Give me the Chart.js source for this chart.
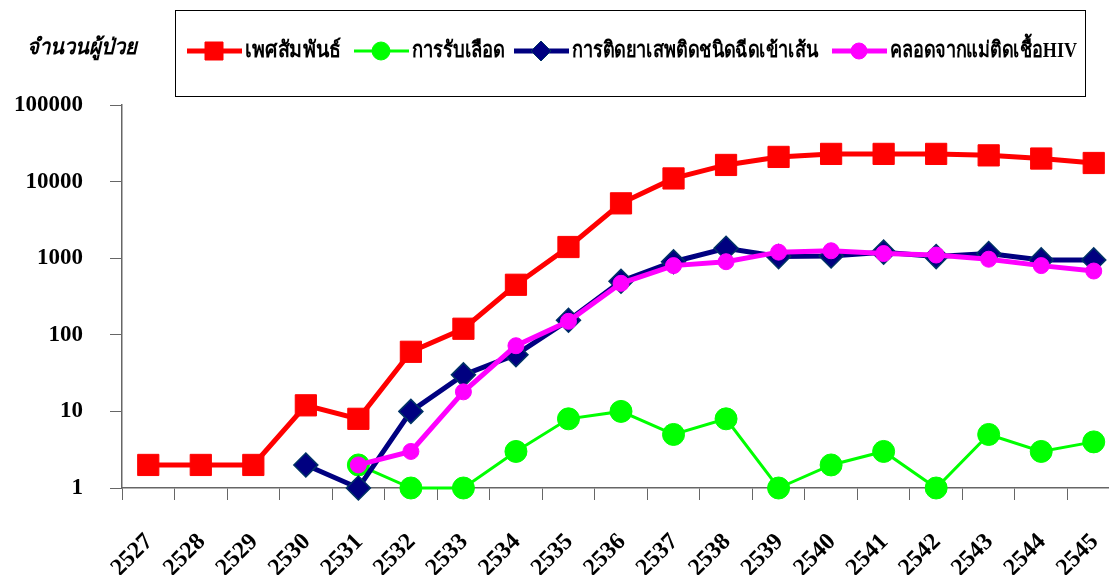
<!DOCTYPE html>
<html>
<head>
<meta charset="utf-8">
<script src="https://cdn.jsdelivr.net/npm/chart.js@4.4.0/dist/chart.umd.min.js"></script>
<style>
html, body { margin:0; padding:0; background:#fff; overflow:hidden; width:1109px; height:575px; }
canvas { display:block; }
</style>
</head>
<body>
<canvas id="myChart" width="1120" height="575"></canvas>
<script>
var years = ['2527','2528','2529','2530','2531','2532','2533','2534','2535','2536',
             '2537','2538','2539','2540','2541','2542','2543','2544','2545'];
var sexData    = [2,2,2,12,8,60,120,450,1400,5200,11000,16500,21000,23000,23000,23000,22000,20000,17500];
var bloodData  = [null,null,null,null,2,1,1,3,8,10,5,8,1,2,3,1,5,3,4];
var drugData   = [null,null,null,2,1,10,30,55,155,500,900,1350,1050,1070,1200,1050,1150,950,950];
var motherData = [null,null,null,null,2,3,18,72,150,470,800,900,1200,1250,1150,1100,970,800,680];
var yTicks = [1,10,100,1000,10000,100000];
var seriesNames = ['เพศสัมพันธ์','การรับเลือด','การติดยาเสพติดชนิดฉีดเข้าเส้น','คลอดจากแม่ติดเชื้อHIV'];
var yTitle = 'จำนวนผู้ป่วย';

var serif = '"Liberation Serif", "Times New Roman", serif';

// small marker drawer for the legend
function marker(ctx, style, r, x, y){
	ctx.beginPath();
	if (style === 'rect') {
		ctx.rect(x - r, y - r, 2*r, 2*r);
	} else if (style === 'rectRot') {
		ctx.moveTo(x, y - r); ctx.lineTo(x + r, y); ctx.lineTo(x, y + r); ctx.lineTo(x - r, y); ctx.closePath();
	} else {
		ctx.arc(x, y, r, 0, Math.PI*2);
	}
	ctx.fill();
	ctx.stroke();
}

var boxLegend = {
	id: 'boxLegend',
	afterDraw: function(chart){
		var ctx = chart.ctx;
		ctx.save();
		ctx.fillStyle = '#000';
		ctx.textBaseline = 'middle';
		ctx.textAlign = 'left';
		ctx.font = 'italic bold 22px ' + serif;
		ctx.fillText(yTitle, 27, 48, 110);

		ctx.strokeStyle = '#000';
		ctx.lineWidth = 1;
		ctx.strokeRect(175.5, 10.5, 910, 86);

		var starts = [187, 354, 514, 832];
		var sizes = [9, 9, 10, 8];
		var textW = [96, 93, 246, 187];
		ctx.font = 'bold 22px ' + serif;
		chart.data.datasets.forEach(function(ds, i){
			var x0 = starts[i], y = 51;
			ctx.strokeStyle = ds.borderColor;
			ctx.lineWidth = ds.borderWidth;
			ctx.beginPath(); ctx.moveTo(x0, y); ctx.lineTo(x0 + 55, y); ctx.stroke();
			ctx.fillStyle = ds.pointBackgroundColor;
			ctx.strokeStyle = ds.pointBorderColor;
			ctx.lineWidth = 1;
			marker(ctx, ds.pointStyle, sizes[i], x0 + 27, y);
			ctx.fillStyle = '#000';
			ctx.fillText(ds.label, x0 + 58, y, textW[i]);
		});
		ctx.restore();
	}
};

var ctx = document.getElementById('myChart').getContext('2d');
var chart = new Chart(ctx, {
	type: 'line',
	data: {
		labels: years,
		datasets: [{
			label: seriesNames[0], data: sexData, order: 1, clip: false,
			borderColor: '#FF0000', borderWidth: 5,
			pointStyle: 'rect', pointRadius: 15, pointBackgroundColor: '#FF0000', pointBorderColor: '#FF0000', pointBorderWidth: 1
		}, {
			label: seriesNames[1], data: bloodData, order: 3, clip: false,
			borderColor: '#00FF00', borderWidth: 3,
			pointStyle: 'circle', pointRadius: 11, pointBackgroundColor: '#00FF00', pointBorderColor: '#00FF00', pointBorderWidth: 1
		}, {
			label: seriesNames[2], data: drugData, order: 2, clip: false,
			borderColor: '#000080', borderWidth: 5,
			pointStyle: 'rectRot', pointRadius: 12, pointBackgroundColor: '#000080', pointBorderColor: '#003366', pointBorderWidth: 1.5
		}, {
			label: seriesNames[3], data: motherData, order: 0, clip: false,
			borderColor: '#FF00FF', borderWidth: 5,
			pointStyle: 'circle', pointRadius: 8, pointBackgroundColor: '#FF00FF', pointBorderColor: '#FF00FF', pointBorderWidth: 1
		}]
	},
	options: {
		responsive: false,
		animation: false,
		layout: { autoPadding: false, padding: { top: 105, left: 0, right: 0, bottom: 0 } },
		plugins: { legend: { display: false }, tooltip: { enabled: false } },
		scales: {
			x: {
				offset: true,
				grid: { offset: true, drawOnChartArea: false, drawTicks: true, tickLength: 12, color: '#666' },
				border: { color: '#666', width: 1.5 },
				ticks: {
					autoSkip: false, minRotation: 45, maxRotation: 45, padding: 28, labelOffset: 1,
					color: '#000', font: { family: serif, size: 24, weight: 'bold' }
				},
				afterFit: function(s){ s.height = 87; s.paddingLeft = 0; s.paddingRight = 0; }
			},
			y: {
				type: 'logarithmic', min: 1, max: 100000,
				grid: { drawOnChartArea: false, drawTicks: true, tickLength: 12, color: '#666' },
				border: { color: '#666', width: 1.5 },
				ticks: {
					padding: 27, color: '#000', font: { family: serif, size: 23, weight: 'bold' },
					callback: function(v){ return String(v); }
				},
				afterBuildTicks: function(s){ s.ticks = yTicks.map(function(v){ return { value: v }; }); },
				afterFit: function(s){ s.width = 122; }
			}
		}
	},
	plugins: [boxLegend]
});
</script>
</body>
</html>
